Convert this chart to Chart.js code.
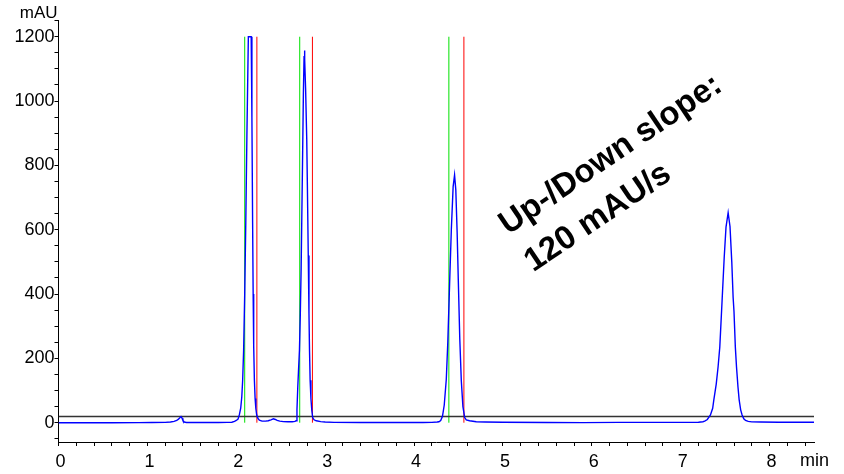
<!DOCTYPE html>
<html><head><meta charset="utf-8">
<script src="https://cdn.jsdelivr.net/npm/chart.js@4.4.0/dist/chart.umd.min.js"></script>
<style>html,body{margin:0;padding:0;background:#fff;} canvas{display:block;}</style>
</head><body>
<canvas id="c" width="844" height="474"></canvas>
<script>
// ---- data ----
const traceTime = [0.00,0.30,0.60,0.90,1.05,1.20,1.26,1.30,1.33,1.35,1.365,1.378,1.39,1.40,1.415,1.44,1.60,1.80,
  1.90,1.95,1.98,2.00,2.02,2.035,2.05,2.062,2.072,2.083,2.095,2.107,2.12,2.136,2.168,2.176,2.184,2.19,2.196,2.204,2.212,2.22,2.23,2.245,2.26,2.29,2.33,
  2.36,2.39,2.418,2.44,2.46,2.49,2.53,2.58,2.63,2.66,
  2.673,2.683,2.692,2.70,2.711,2.72,2.73,2.745,2.755,2.763,2.767,2.772,2.78,2.793,2.80,2.81,2.818,2.824,2.831,2.84,2.85,2.86,2.875,2.90,2.95,3.00,3.10,3.40,3.80,
  4.10,4.20,4.26,4.28,4.30,4.32,4.34,4.363,4.38,4.40,4.42,4.44,4.456,4.47,4.485,4.498,4.515,4.532,4.55,4.57,4.588,4.625,4.70,4.80,5.00,5.50,5.90,6.30,6.70,
  7.00,7.10,7.20,7.25,7.27,7.30,7.335,7.36,7.373,7.40,7.421,7.44,7.466,7.49,7.51,7.534,7.555,7.575,7.59,7.60,7.615,7.628,7.645,7.658,7.675,7.691,7.71,7.73,7.76,7.80,7.90,8.10,8.50];
const traceMAU = [0,0,0,0.3,0.8,1,2,4,7,11,15,19,14,7,2,0.8,0.5,0.5,
  1,1.5,4,7,11,25,45,80,132,226,400,620,900,1200,1200,950,620,400,240,132,75,45,24,13,8,5,5,
  6,9,12,10,7,5,3.5,3,3,4,
  6,40,110,160,226,330,480,800,1020,1140,1157,1130,1040,880,740,520,340,226,132,75,38,16,9,6,3.5,2,1,0.5,0.5,
  0.8,1,2,3,7,20,55,135,250,430,603,734,770,724,592,444,259,130,50,16,9,6,3,2,1.2,0.8,0.3,1,1,
  1,1,1.5,3,5,10,24,45,71,120,174,235,380,515,608,653,610,500,390,345,235,174,110,71,40,24,12,7,4,2.5,2,1.5,1.5];
const startMarks = [2.095, 2.714, 4.392];   // green lines
const endMarks = [2.232, 2.857, 4.561];     // red lines
const markRange = [0, 1200];
const thresholdLevel = 19;
const xRange = [0, 8.5];
const yRange = [-60, 1252];
const xMajorTicks = [0,1,2,3,4,5,6,7,8];
const yMajorTicks = [0,200,400,600,800,1000,1200];
const xUnit = 'min', yUnit = 'mAU';
const noteLines = ['Up-/Down slope:', '120 mAU/s'];
const noteAnchor = [5.057, 583];

const FONT = '"Liberation Sans", Arial, Helvetica, sans-serif';
Chart.defaults.font.family = FONT;
Chart.defaults.color = '#000';

const datasets = [];
datasets.push({
  data: traceTime.map((t, i) => ({x: t, y: traceMAU[i]})),
  borderColor: '#0000ff', borderWidth: 1.4, showLine: true, pointRadius: 0, tension: 0
});
datasets.push({
  data: [{x: xRange[0], y: thresholdLevel}, {x: xRange[1], y: thresholdLevel}],
  borderColor: '#333333', borderWidth: 1.5, showLine: true, pointRadius: 0
});
startMarks.forEach(t => datasets.push({
  data: [{x: t, y: markRange[0]}, {x: t, y: markRange[1]}],
  borderColor: 'rgb(0,225,0)', borderWidth: 1, showLine: true, pointRadius: 0
}));
endMarks.forEach(t => datasets.push({
  data: [{x: t, y: markRange[0]}, {x: t, y: markRange[1]}],
  borderColor: 'rgb(255,0,0)', borderWidth: 1, showLine: true, pointRadius: 0
}));

const isMajor = (v, list) => list.some(m => Math.abs(v - m) < 1e-6);

const textPlugin = {
  id: 'texts',
  afterDraw(chart) {
    const {ctx, chartArea, scales} = chart;
    ctx.save();
    ctx.fillStyle = '#000';
    ctx.textBaseline = 'alphabetic';
    ctx.font = '17px ' + FONT;
    ctx.textAlign = 'right';
    ctx.fillText(yUnit, chartArea.left - 1, chartArea.top - 2);
    ctx.font = '18px ' + FONT;
    ctx.textAlign = 'left';
    ctx.fillText(xUnit, chartArea.right - 14, chartArea.bottom + 24);
    const px = scales.x.getPixelForValue(noteAnchor[0]);
    const py = scales.y.getPixelForValue(noteAnchor[1]);
    ctx.translate(px, py);
    ctx.rotate(-34 * Math.PI / 180);
    ctx.font = 'bold 33px ' + FONT;
    noteLines.forEach((l, i) => ctx.fillText(l, 0, i * 45));
    ctx.restore();
  }
};

new Chart(document.getElementById('c'), {
  type: 'scatter',
  data: {datasets},
  plugins: [textPlugin],
  options: {
    responsive: false, animation: false, devicePixelRatio: 1,
    layout: {padding: {left: 0, right: 30, top: 20, bottom: 0}},
    plugins: {legend: {display: false}, tooltip: {enabled: false}},
    scales: {
      x: {
        type: 'linear', position: 'bottom', min: xRange[0], max: xRange[1],
        afterFit: s => { s.height = 32; },
        border: {display: true, color: '#000', width: 1},
        grid: {drawOnChartArea: false, drawTicks: true, tickLength: 4, color: '#000'},
        ticks: {stepSize: 0.2, autoSkip: false, maxRotation: 0, includeBounds: false, labelOffset: 2, padding: 5,
          font: {size: 18}, color: '#000',
          callback: v => isMajor(v, xMajorTicks) ? String(Math.round(v)) : ''}
      },
      y: {
        type: 'linear', position: 'left', min: yRange[0], max: yRange[1],
        afterFit: s => { s.width = 58.5; },
        border: {display: true, color: '#000', width: 1},
        grid: {drawOnChartArea: false, drawTicks: true, tickLength: 4, color: '#000'},
        ticks: {stepSize: 50, autoSkip: false, includeBounds: false, padding: 0,
          font: {size: 18}, color: '#000',
          callback: v => isMajor(v, yMajorTicks) ? String(Math.round(v)) : ''}
      }
    }
  }
});
</script>
</body></html>
